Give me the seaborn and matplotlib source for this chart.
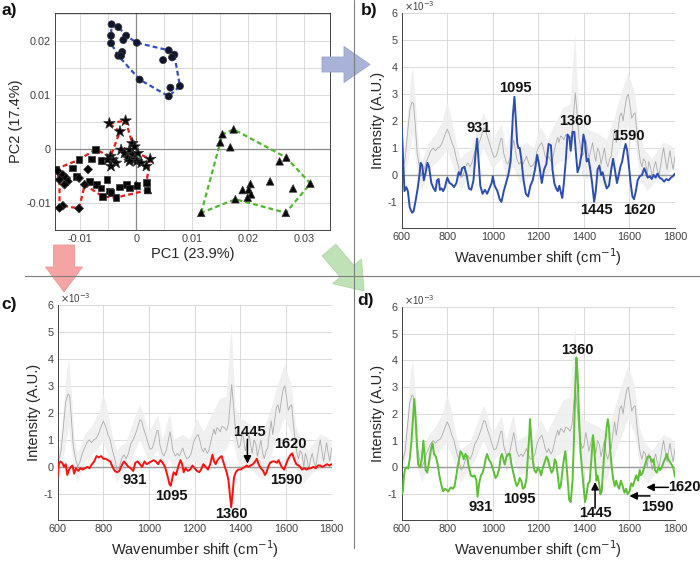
import numpy as np
import pandas as pd
import matplotlib
matplotlib.use('Agg')
import matplotlib.pyplot as plt
import seaborn as sns
from matplotlib.patches import FancyArrow

sns.set_theme(style='white')
plt.rcParams['font.family'] = ['Liberation Sans', 'DejaVu Sans']
plt.rcParams['axes.unicode_minus'] = False

# ---------------- PCA scores (panel a) ----------------
circ_pc1 = [-0.0044, -0.0032, -0.0045, -0.0018, -0.0023, -0.0045, 0.0001, -0.0025, -0.0032,
            -0.0027, 0.0058, 0.0068, 0.0064, 0.0048, 0.0006, 0.0078, 0.0061, 0.0058]
circ_pc2 = [0.0230, 0.0225, 0.0209, 0.0209, 0.0201, 0.0195, 0.0196, 0.0179, 0.0172,
            0.0172, 0.0182, 0.0174, 0.0169, 0.0164, 0.0128, 0.0116, 0.0113, 0.0097]

tri_pc1 = [0.0154, 0.0150, 0.0174, 0.0168, 0.0268, 0.0256, 0.0311, 0.0280, 0.0239,
           0.0204, 0.0201, 0.0190, 0.0205, 0.0199, 0.0177, 0.0116, 0.0267, 0.0000, 0.0021]
tri_pc2 = [0.0027, 0.0012, 0.0036, 0.0003, -0.0016, -0.0023, -0.0064, -0.0073, -0.0060,
           -0.0065, -0.0075, -0.0076, -0.0084, -0.0090, -0.0093, -0.0118, -0.0118, -0.0066, -0.0076]

star_pc1 = [-0.0048, -0.0019, -0.0029, -0.0046, -0.0042, -0.0051, -0.0036, -0.0045, -0.0027,
            -0.0021, -0.0012, -0.0006, -0.0015, -0.0003, 0.0003, 0.0001, 0.0009, -0.0012,
            0.0025, 0.0018, -0.0007, -0.0003]
star_pc2 = [0.0047, 0.0052, 0.0032, -0.0014, -0.0020, -0.0020, -0.0026, -0.0032, -0.0002,
            -0.0008, -0.0002, -0.0011, -0.0017, -0.0020, -0.0008, -0.0023, -0.0026, -0.0023,
            -0.0019, -0.0032, 0.0010, 0.0004]

sq_pc1 = [-0.0073, -0.0102, -0.0114, -0.0080, -0.0063, -0.0143, -0.0107, -0.0052, -0.0083,
          -0.0071, -0.0063, -0.0048, -0.0060, -0.0045, -0.0036, -0.0030, -0.0017, -0.0012,
          0.0001, 0.0018, 0.0019]
sq_pc2 = [-0.0001, -0.0020, -0.0035, -0.0019, -0.0021, -0.0037, -0.0051, -0.0057, -0.0060,
          -0.0066, -0.0072, -0.0078, -0.0088, -0.0081, -0.0090, -0.0070, -0.0066, -0.0072,
          -0.0068, -0.0062, -0.0076]

dia_pc1 = [-0.0140, -0.0131, -0.0125, -0.0137, -0.0122, -0.0128, -0.0086, -0.0102,
           -0.0092, -0.0131, -0.0137, -0.0102]
dia_pc2 = [-0.0041, -0.0048, -0.0054, -0.0057, -0.0060, -0.0066, -0.0038, -0.0054,
           -0.0066, -0.0105, -0.0109, -0.0110]

# contornos tracejados (indices nos grupos acima)
contorno_azul = [('circ', i) for i in [0, 1, 3, 6, 10, 11, 15, 17, 14, 8, 5, 2, 0]]
contorno_verde = [('tri', i) for i in [15, 1, 0, 2, 4, 6, 16, 14, 15]]
contorno_vermelho = [('star', 0), ('star', 1), ('star', 20), ('star', 14), ('star', 18),
                     ('sq', 19), ('tri', 18), ('sq', 14), ('sq', 12), ('dia', 8),
                     ('dia', 11), ('dia', 9), ('dia', 10), ('dia', 3), ('sq', 5),
                     ('sq', 1), ('sq', 0), ('star', 3), ('star', 2), ('star', 0)]

# ---------------- spectra (units of 1e-3) ----------------
media = [(600, 0.1), (615, 0.6), (625, 1.5), (635, 2.4), (645, 2.7), (652, 2.65), (660, 1.8),
         (668, 0.8), (678, 0.3), (688, 0.0), (698, 0.2), (708, 0.5), (718, 0.7), (728, 0.9),
         (738, 1.0), (748, 0.9), (758, 1.0), (768, 1.05), (778, 1.2), (788, 1.45), (800, 1.7),
         (810, 1.5), (820, 1.2), (830, 1.0), (840, 0.6), (850, 0.3), (860, -0.1), (870, 0.0),
         (880, 0.3), (890, 0.45), (900, 0.3), (910, 0.5), (920, 0.85), (930, 1.0), (940, 1.2),
         (950, 1.45), (960, 1.75), (968, 1.7), (975, 1.45), (985, 1.2), (995, 0.9), (1005, 0.65),
         (1015, 0.7), (1025, 1.0), (1035, 1.35), (1040, 1.35), (1048, 0.8), (1058, 0.5),
         (1065, 0.4), (1075, 0.6), (1085, 1.0), (1092, 1.3), (1098, 1.0), (1105, 0.6),
         (1115, 0.4), (1125, 0.5), (1133, 0.4), (1140, 0.55), (1148, 0.7), (1155, 0.5),
         (1165, 0.3), (1175, 0.35), (1185, 0.5), (1195, 0.9), (1205, 1.1), (1215, 1.2),
         (1222, 1.0), (1230, 0.7), (1238, 0.55), (1245, 0.7), (1255, 0.5), (1262, 0.6),
         (1270, 0.9), (1278, 1.2), (1285, 1.4), (1290, 1.2), (1298, 1.45), (1305, 1.4),
         (1312, 1.3), (1320, 1.5), (1330, 1.45), (1340, 1.35), (1348, 1.6), (1356, 2.4),
         (1362, 3.05), (1370, 2.3), (1378, 1.4), (1385, 1.0), (1393, 0.7), (1400, 0.8),
         (1408, 1.3), (1415, 1.0), (1422, 0.6), (1430, 0.9), (1438, 1.2), (1445, 0.8),
         (1452, 0.5), (1460, 1.0), (1468, 0.85), (1475, 0.4), (1483, 0.7), (1490, 1.0),
         (1498, 0.5), (1505, 0.3), (1513, 0.6), (1520, 0.7), (1528, 1.3), (1535, 1.7),
         (1542, 1.2), (1550, 1.7), (1558, 2.2), (1565, 2.3), (1572, 2.0), (1580, 2.5),
         (1588, 2.9), (1595, 3.0), (1602, 2.6), (1610, 2.1), (1618, 2.25), (1625, 2.3),
         (1632, 1.6), (1640, 1.0), (1648, 0.5), (1655, 0.3), (1662, 0.6), (1670, 0.5),
         (1678, 0.0), (1685, 0.5), (1692, 0.3), (1700, -0.1), (1708, 0.3), (1715, 0.5),
         (1722, 0.2), (1730, 0.0), (1738, 0.4), (1745, 0.8), (1750, 1.0), (1757, 0.6),
         (1765, 0.2), (1772, 0.6), (1778, 0.9), (1785, 0.5), (1792, 0.2), (1800, 0.7)]

banda_sup = [(600, 0.3), (620, 1.5), (640, 3.5), (650, 4.0), (660, 3.0), (675, 1.0), (690, 0.5),
             (720, 1.2), (750, 1.5), (780, 2.0), (800, 2.7), (815, 2.3), (840, 1.2), (860, 0.6),
             (880, 0.8), (900, 0.9), (930, 1.6), (960, 2.3), (975, 2.0), (1000, 1.3),
             (1040, 1.9), (1060, 1.0), (1092, 2.0), (1110, 1.0), (1150, 1.2), (1180, 1.0),
             (1210, 1.8), (1240, 1.3), (1280, 2.0), (1310, 2.5), (1340, 2.6), (1362, 5.3),
             (1380, 2.2), (1400, 1.8), (1440, 1.6), (1470, 1.5), (1500, 1.3), (1530, 2.0),
             (1560, 2.9), (1595, 3.8), (1625, 3.0), (1645, 1.5), (1670, 0.9), (1700, 0.6),
             (1750, 1.2), (1780, 1.1), (1800, 0.9)]
banda_inf = [(600, -0.2), (630, 0.5), (650, 1.5), (670, 0.0), (690, -0.6), (720, 0.2),
             (760, 0.5), (800, 0.9), (840, 0.0), (860, -0.6), (880, -0.3), (920, 0.2),
             (960, 1.0), (1000, 0.2), (1040, 0.6), (1060, -0.2), (1090, 0.3), (1120, -0.3),
             (1160, -0.1), (1200, 0.2), (1240, 0.0), (1270, 0.3), (1300, 0.5), (1340, 0.6),
             (1362, 1.2), (1400, -0.2), (1440, 0.0), (1470, -0.3), (1500, -0.5), (1530, 0.3),
             (1560, 1.0), (1595, 1.8), (1625, 1.2), (1650, -0.2), (1680, -0.6), (1720, -0.2),
             (1760, -0.1), (1800, 0.3)]

espectro_azul = [(600, 1.8), (607, 0.4), (612, -0.6), (620, -0.45), (627, -0.6), (635, -1.2),
                 (645, -1.4), (652, -1.35), (660, -1.0), (670, -0.5), (678, 0.0), (683, 0.45),
                 (690, 0.35), (697, -0.2), (705, 0.1), (713, 0.45), (720, 0.3), (730, -0.3),
                 (740, -0.5), (748, -0.6), (755, -0.2), (762, -0.15), (768, -0.55), (775, -0.5),
                 (782, -0.6), (790, -0.45), (800, -0.1), (810, -0.3), (820, -0.35), (830, -0.45),
                 (840, -0.3), (850, 0.1), (858, 0.0), (865, 0.25), (875, 0.3), (885, 0.0),
                 (895, -0.5), (905, -0.55), (915, -0.2), (925, 0.9), (931, 1.35), (938, 0.5),
                 (945, -0.4), (955, -0.7), (965, -0.55), (975, -0.7), (985, -0.5), (995, -0.3),
                 (1000, -0.05), (1008, -0.4), (1020, -0.6), (1030, -0.9), (1038, -1.0),
                 (1048, -0.6), (1058, -0.3), (1068, 0.0), (1078, 0.5), (1088, 2.2), (1095, 2.9),
                 (1100, 2.2), (1107, 1.2), (1112, 1.0), (1118, 1.0), (1125, 0.6), (1135, -0.2),
                 (1145, -0.7), (1155, -0.8), (1165, -0.4), (1175, -0.2), (1185, 0.2), (1195, 0.75),
                 (1205, 0.3), (1215, -0.3), (1225, 0.2), (1235, 0.4), (1245, 1.15), (1255, 1.1),
                 (1262, 0.2), (1270, -0.3), (1278, -0.5), (1285, -0.6), (1292, -0.4), (1300, -0.7),
                 (1305, -0.85), (1312, -0.3), (1320, 0.5), (1328, 1.5), (1336, 1.4), (1342, 0.9),
                 (1350, 1.6), (1358, 1.6), (1365, 0.8), (1372, 0.1), (1380, 0.3), (1390, 0.8),
                 (1398, 1.5), (1405, 1.2), (1412, 0.5), (1420, 0.6), (1428, 0.2), (1436, -0.3),
                 (1445, -1.0), (1452, -0.6), (1460, 0.2), (1468, 0.35), (1475, 0.0), (1482, 0.1),
                 (1490, -0.2), (1500, -0.5), (1510, -0.4), (1520, 0.2), (1528, 0.6), (1536, 0.2),
                 (1545, -0.3), (1553, 0.0), (1560, 0.3), (1568, 0.5), (1576, 0.9), (1583, 1.15),
                 (1590, 0.9), (1598, 0.3), (1605, -0.3), (1613, -0.8), (1620, -0.9), (1628, -0.6),
                 (1636, -0.2), (1645, -0.05), (1655, 0.0), (1665, 0.25), (1672, 0.1), (1680, -0.1),
                 (1690, -0.05), (1698, -0.15), (1706, 0.0), (1715, -0.1), (1723, 0.05),
                 (1732, -0.1), (1742, -0.15), (1752, -0.25), (1762, -0.15), (1772, -0.2),
                 (1782, -0.1), (1790, -0.05), (1800, 0.05)]

espectro_vermelho = [(600, -0.35), (605, 0.1), (612, 0.2), (620, 0.15), (628, 0.0), (635, 0.1),
                     (642, -0.3), (650, -0.1), (658, 0.0), (665, 0.05), (672, -0.25), (680, -0.05),
                     (690, -0.15), (700, -0.05), (710, -0.1), (720, -0.05), (730, 0.0), (740, -0.05),
                     (750, 0.1), (760, 0.2), (770, 0.4), (780, 0.35), (790, 0.4), (800, 0.3),
                     (810, 0.3), (820, 0.25), (830, 0.2), (840, 0.0), (850, -0.15), (860, -0.2),
                     (870, -0.15), (880, 0.05), (890, 0.2), (900, 0.1), (910, 0.0), (920, -0.05),
                     (931, -0.15), (940, 0.15), (950, 0.2), (960, 0.1), (970, 0.0), (980, 0.2),
                     (990, 0.1), (1000, 0.15), (1010, 0.2), (1020, 0.25), (1030, 0.2), (1040, 0.1),
                     (1050, 0.25), (1060, 0.15), (1070, 0.0), (1080, -0.3), (1090, -0.65),
                     (1095, -0.7), (1100, -0.5), (1108, -0.2), (1118, -0.3), (1128, 0.0),
                     (1138, 0.25), (1145, 0.1), (1152, -0.2), (1160, -0.05), (1170, -0.15),
                     (1180, -0.1), (1190, 0.05), (1200, -0.05), (1210, -0.15), (1220, -0.2),
                     (1228, -0.1), (1238, 0.1), (1248, 0.0), (1258, -0.1), (1268, 0.1),
                     (1278, 0.45), (1285, 0.2), (1292, 0.1), (1300, 0.25), (1310, 0.35),
                     (1318, 0.4), (1325, 0.2), (1332, 0.0), (1340, -0.2), (1348, -0.5),
                     (1355, -1.1), (1360, -1.5), (1366, -1.0), (1372, -0.4), (1380, -0.2),
                     (1390, -0.1), (1400, -0.1), (1410, -0.05), (1420, 0.0), (1428, 0.05),
                     (1435, 0.0), (1445, 0.05), (1455, 0.1), (1465, 0.2), (1472, 0.3), (1480, 0.1),
                     (1490, -0.05), (1500, -0.15), (1508, -0.3), (1515, -0.2), (1522, 0.0),
                     (1530, 0.15), (1540, 0.2), (1550, 0.2), (1560, 0.15), (1568, 0.25),
                     (1575, 0.1), (1585, -0.05), (1592, -0.1), (1600, 0.1), (1610, 0.3),
                     (1620, 0.45), (1628, 0.5), (1635, 0.3), (1645, 0.1), (1655, 0.05),
                     (1662, 0.0), (1670, -0.1), (1680, -0.05), (1690, -0.1), (1700, -0.05),
                     (1710, -0.05), (1720, 0.0), (1730, -0.05), (1740, 0.05), (1750, 0.05),
                     (1760, 0.0), (1770, 0.05), (1780, 0.1), (1790, 0.05), (1800, 0.1)]

espectro_verde = [(600, -1.0), (605, -0.9), (610, -0.3), (615, -0.05), (620, 0.0), (628, -0.05),
                  (635, 0.3), (643, 1.0), (650, 1.9), (655, 2.55), (660, 2.0), (667, 0.8),
                  (672, 0.1), (680, 0.0), (688, 0.3), (695, 1.0), (700, 0.5), (705, -0.1),
                  (712, -0.2), (720, 0.2), (728, 0.65), (735, 0.9), (742, 0.5), (750, 0.4),
                  (758, 0.1), (765, -0.3), (775, -0.7), (782, -0.9), (790, -0.8), (798, -0.85),
                  (805, -0.9), (815, -0.75), (825, -0.8), (832, -0.7), (840, -0.3), (845, 0.0),
                  (850, 0.2), (858, 0.6), (866, 0.5), (872, 0.3), (880, 0.5), (888, 0.35),
                  (895, 0.0), (903, -0.3), (912, -0.35), (920, -0.3), (928, -0.5), (933, -1.1),
                  (940, -0.6), (948, -0.3), (955, -0.2), (962, 0.0), (968, 0.3), (975, 0.5),
                  (982, 0.3), (990, 0.2), (998, 0.0), (1005, -0.2), (1012, -0.4), (1020, -0.3),
                  (1028, -0.05), (1035, 0.4), (1040, 0.5), (1046, 0.3), (1052, 0.1), (1060, 0.4),
                  (1068, 0.5), (1075, 0.5), (1082, 0.1), (1090, -0.2), (1098, -0.5), (1105, -0.7),
                  (1112, -0.6), (1118, -0.4), (1125, -0.5), (1132, -0.8), (1140, -0.75),
                  (1148, -0.4), (1155, 0.5), (1160, 1.2), (1163, 1.8), (1168, 1.2), (1175, 0.3),
                  (1182, -0.1), (1190, -0.2), (1198, 0.0), (1205, -0.1), (1212, -0.3), (1220, 0.0),
                  (1228, 0.2), (1236, 0.4), (1242, 0.3), (1250, 0.0), (1258, -0.2), (1265, -0.1),
                  (1272, 0.3), (1278, 0.2), (1285, -0.3), (1292, -0.8), (1298, -0.7), (1305, -0.2),
                  (1312, 0.3), (1318, 0.6), (1322, 0.3), (1328, -0.4), (1335, -1.2), (1342, -1.3),
                  (1350, -0.5), (1356, 1.0), (1362, 3.0), (1367, 4.1), (1372, 3.5), (1378, 2.0),
                  (1385, 0.6), (1392, -0.1), (1398, -0.7), (1405, -1.3), (1412, -1.0),
                  (1418, -0.6), (1425, -0.55), (1432, 0.2), (1440, 1.2), (1445, 0.8), (1450, 0.1),
                  (1455, -0.5), (1460, -0.3), (1467, -0.6), (1472, -1.0), (1478, -0.9),
                  (1485, 0.0), (1492, 0.8), (1500, 1.5), (1505, 1.8), (1510, 1.5), (1515, 0.7),
                  (1522, 0.0), (1528, -0.4), (1535, -0.7), (1542, -0.5), (1548, -0.7),
                  (1555, -0.8), (1562, -0.5), (1570, -0.7), (1578, -0.95), (1585, -0.8),
                  (1592, -1.0), (1600, -0.9), (1608, -0.6), (1615, -0.7), (1622, -0.5),
                  (1630, -0.3), (1638, -0.5), (1645, -0.1), (1650, -0.3), (1658, -0.2),
                  (1665, 0.0), (1672, 0.2), (1680, 0.4), (1690, 0.4), (1698, 0.2), (1706, 0.3),
                  (1712, -0.1), (1720, -0.2), (1728, 0.0), (1735, -0.1), (1742, 0.0), (1750, 0.2),
                  (1758, 0.35), (1764, 0.5), (1770, 0.3), (1778, 0.2), (1785, 0.1), (1792, 0.0),
                  (1800, -0.35)]

# rotulos dos picos: (texto, x, y)
rotulos_b = [('931', 937, 1.73), ('1095', 1100, 3.23), ('1360', 1361, 2.0), ('1590', 1595, 1.46),
             ('1445', 1456, -1.3), ('1620', 1643, -1.3)]
rotulos_c = [('931', 939, -0.5), ('1095', 1096, -1.09), ('1360', 1362, -1.74),
             ('1445', 1439, 1.28), ('1620', 1617, 0.85), ('1590', 1603, -0.5)]
rotulos_d = [('1360', 1371, 4.4), ('931', 948, -1.47), ('1095', 1117, -1.2),
             ('1445', 1452, -1.72), ('1590', 1723, -1.47)]
# setas: (x_inicio, y_inicio, x_fim, y_fim)
setas_c = [(1431, 1.02, 1431, 0.12)]
setas_d = [(1449, -1.53, 1449, -0.55), (1690, -1.07, 1600, -1.07), (1771, -0.75, 1674, -0.75)]

COR_TXT = '#262626'
COR_GRADE = '#d4d4d4'

fig = plt.figure(figsize=(7.0, 5.64), dpi=100)


def estilo_eixos(ax):
    ax.tick_params(direction='in', length=3, width=0.6, labelsize=7.8,
                   colors=COR_TXT, labelcolor='#404040', pad=3)
    for s in ax.spines.values():
        s.set_color('#262626')
        s.set_linewidth(0.6)


# ---------------- panel a ----------------
ax_a = fig.add_axes([0.0786, 0.592, 0.3929, 0.385])
grupos = {'circ': (circ_pc1, circ_pc2), 'tri': (tri_pc1, tri_pc2), 'star': (star_pc1, star_pc2),
          'sq': (sq_pc1, sq_pc2), 'dia': (dia_pc1, dia_pc2)}
df_pca = pd.concat([pd.DataFrame({'pc1': v[0], 'pc2': v[1], 'forma': k}) for k, v in grupos.items()],
                   ignore_index=True)

# grade fina a cada 0.005
for gx in np.arange(-0.01, 0.035, 0.005):
    ax_a.axvline(gx, color=COR_GRADE, lw=0.6, zorder=0)
for gy in np.arange(-0.015, 0.026, 0.005):
    ax_a.axhline(gy, color=COR_GRADE, lw=0.6, zorder=0)
ax_a.axhline(0, color='#8a8a8a', lw=0.9, zorder=1)
ax_a.axvline(0, color='#8a8a8a', lw=0.9, zorder=1)

for contorno, cor in [(contorno_azul, '#2f4fc0'), (contorno_verde, '#4fb82f'),
                      (contorno_vermelho, '#f01818')]:
    xs = [grupos[g][0][i] for g, i in contorno]
    ys = [grupos[g][1][i] for g, i in contorno]
    ax_a.plot(xs, ys, color=cor, lw=1.6, ls=(0, (2.2, 1.4)), zorder=2)

sns.scatterplot(data=df_pca, x='pc1', y='pc2', style='forma', hue='forma', size='forma',
                markers={'circ': 'o', 'tri': '^', 'star': '*', 'sq': 's', 'dia': 'D'},
                palette={'circ': '#10162e', 'tri': '#050505', 'star': '#050505',
                         'sq': '#050505', 'dia': '#050505'},
                sizes={'circ': 26, 'tri': 30, 'star': 75, 'sq': 22, 'dia': 20},
                edgecolor='#333333', linewidth=0.5, legend=False, ax=ax_a, zorder=3)

ax_a.set_xlim(-0.0145, 0.0346)
ax_a.set_ylim(-0.015, 0.0251)
ax_a.set_xticks([-0.01, 0, 0.01, 0.02, 0.03])
ax_a.set_xticklabels(['-0.01', '0', '0.01', '0.02', '0.03'])
ax_a.set_yticks([-0.01, 0, 0.01, 0.02])
ax_a.set_yticklabels(['-0.01', '0', '0.01', '0.02'])
estilo_eixos(ax_a)
ax_a.set_xlabel('PC1 (23.9%)', fontsize=10.5, color=COR_TXT, labelpad=2)
ax_a.set_ylabel('PC2 (17.4%)', fontsize=10.5, color=COR_TXT, labelpad=2)


# ---------------- spectra panels ----------------
def painel_espectro(pos, dados, cor, rotulos, setas):
    ax = fig.add_axes(pos)
    for gx in range(800, 1801, 200):
        ax.axvline(gx, color=COR_GRADE, lw=0.6, zorder=0)
    for gy in range(1, 7):
        ax.axhline(gy, color=COR_GRADE, lw=0.6, zorder=0)
    ax.axhline(-1, color=COR_GRADE, lw=0.6, zorder=0)
    bx = [p[0] for p in banda_sup] + [p[0] for p in banda_inf[::-1]]
    by = [p[1] for p in banda_sup] + [p[1] for p in banda_inf[::-1]]
    ax.fill(bx, by, color='#eeeeee', alpha=0.85, lw=0, zorder=1)
    sns.lineplot(x=[p[0] for p in media], y=[p[1] for p in media], ax=ax,
                 color='#ababab', lw=0.6, zorder=2)
    ax.axhline(0, color='#9a9a9a', lw=1.0, zorder=2)
    sns.lineplot(x=[p[0] for p in dados], y=[p[1] for p in dados], ax=ax,
                 color=cor, lw=1.4, zorder=3)
    for txt, x, y in rotulos:
        ax.text(x, y, txt, fontsize=10.5, fontweight='bold', ha='center', va='center',
                color='#111111', zorder=5)
    for x0, y0, x1, y1 in setas:
        ax.annotate('', xy=(x1, y1), xytext=(x0, y0), zorder=5,
                    arrowprops=dict(arrowstyle='-|>', color='black', lw=1.1,
                                    mutation_scale=11, shrinkA=0, shrinkB=0))
    ax.set_xlim(600, 1800)
    ax.set_ylim(-1.97, 6)
    ax.set_xticks(range(600, 1801, 200))
    ax.set_yticks(range(-1, 7))
    estilo_eixos(ax)
    ax.spines['top'].set_visible(False)
    ax.spines['right'].set_visible(False)
    ax.set_xlabel('Wavenumber shift (cm$^{-1}$)', fontsize=10.5, color=COR_TXT, labelpad=3)
    ax.set_ylabel('Intensity (A.U.)', fontsize=10.5, color=COR_TXT, labelpad=2)
    ax.text(0.008, 1.0, r'$\times$10$^{-3}$', transform=ax.transAxes, fontsize=7,
            color='#404040', va='bottom', ha='left')
    return ax


ax_b = painel_espectro([0.5739, 0.5957, 0.3904, 0.3807], espectro_azul, '#2b4db0', rotulos_b, [])
ax_c = painel_espectro([0.0824, 0.078, 0.3914, 0.3812], espectro_vermelho, '#ff1010', rotulos_c, setas_c)
ax_d = painel_espectro([0.5739, 0.078, 0.3904, 0.378], espectro_verde, '#5cbf35', rotulos_d, setas_d)
ax_d.text(1771, -0.75, '1620', fontsize=10.5, fontweight='bold', ha='left', va='center',
          color='#111111', clip_on=False, zorder=5)

# ---------------- overlay: separators, block arrows, panel letters ----------------
ov = fig.add_axes([0, 0, 1, 1], facecolor='none', zorder=10)
ov.set_xlim(0, 700)
ov.set_ylim(564, 0)
ov.axis('off')
ov.plot([25, 700], [275.5, 275.5], color='#7f7f7f', lw=0.8)
ov.plot([354, 354], [0, 548], color='#7f7f7f', lw=0.8)
ov.add_patch(FancyArrow(322, 64.5, 48, 0, width=15, head_width=36, head_length=26,
                        length_includes_head=True, fc='#a9b3d9', ec='#9aa5cf', lw=0.6))
ov.add_patch(FancyArrow(64, 245, 0, 47, width=21, head_width=37, head_length=25,
                        length_includes_head=True, fc='#f5a3a3', ec='#eb9a9a', lw=0.6))
ov.add_patch(FancyArrow(329, 250, 35, 41, width=18, head_width=38, head_length=26,
                        length_includes_head=True, fc='#bfe1b6', ec='#b0d6a6', lw=0.6))
for letra, x, y in [('a)', 1, 11), ('b)', 361, 11), ('c)', 1, 305), ('d)', 357, 300)]:
    ov.text(x, y, letra, fontsize=12.5, fontweight='bold', color='#111111', va='center', ha='left')

fig.savefig('out.png', dpi=100)
